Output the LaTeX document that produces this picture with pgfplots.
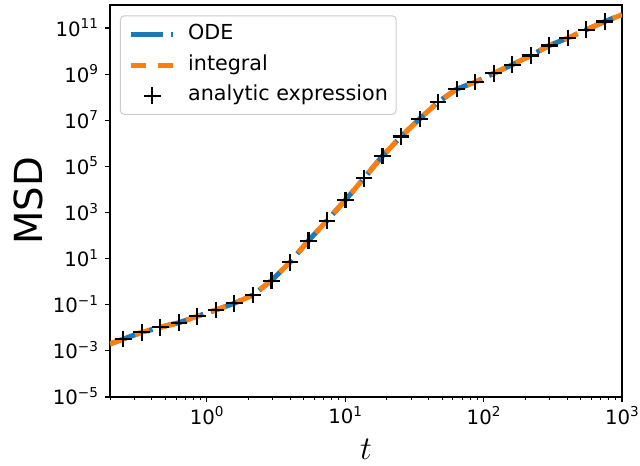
\documentclass[border=0pt]{standalone}
\usepackage{fontspec}
\setmainfont{DejaVu Sans}
\usepackage{pgfplots}
\usepackage{pgfplotstable}
\pgfplotsset{compat=1.18}
\definecolor{tabblue}{HTML}{1F77B4}
\definecolor{taborange}{HTML}{FF7F0E}
\newcommand{\tl}[1]{\fontsize{14.8}{17}\selectfont 10\raisebox{5.6pt}{\fontsize{10.2}{11}\selectfont #1}}
\pgfplotsset{
  linelegend/.style={legend image code/.code={\draw[##1] (0pt,0pt) -- (31.5pt,0pt);}},
  marklegend/.style={legend image code/.code={\draw[mark repeat=2,mark phase=2,##1] plot coordinates {(0pt,0pt) (15.75pt,0pt) (31.5pt,0pt)};}},
}
\pgfplotstableread{
t y
0.2 2.0e-3
0.2495 3.27e-3
0.3395 6.40e-3
0.4619 1.054e-2
0.6286 1.667e-2
0.8554 3.16e-2
1.164 5.93e-2
1.584 0.1159
2.156 0.2655
2.934 1.109
3.992 6.98
5.433 60.4
7.393 445.7
10.06 3532
13.69 3.09e4
18.63 2.864e5
25.35 1.972e6
34.50 1.156e7
46.95 6.14e7
63.89 2.249e8
86.94 4.53e8
118.3 1.081e9
161.0 2.553e9
219.1 6.47e9
298.2 1.758e10
405.8 3.68e10
552.2 8.43e10
751.5 1.932e11
1000 3.8e11
}\curvedata
\pgfplotstableread{
t y
0.2495 3.27e-3
0.3395 6.40e-3
0.4619 1.054e-2
0.6286 1.667e-2
0.8554 3.16e-2
1.164 5.93e-2
1.584 0.1159
2.156 0.2655
2.934 1.109
3.992 6.98
5.433 60.4
7.393 445.7
10.06 3532
13.69 3.09e4
18.63 2.864e5
25.35 1.972e6
34.50 1.156e7
46.95 6.14e7
63.89 2.249e8
86.94 4.53e8
118.3 1.081e9
161.0 2.553e9
219.1 6.47e9
298.2 1.758e10
405.8 3.68e10
552.2 8.43e10
751.5 1.932e11
}\markdata
\begin{document}
\begin{tikzpicture}
\useasboundingbox (-82.5pt,-51.75pt) rectangle (397.5pt,297.75pt);
\begin{axis}[
  scale only axis, width=384pt, height=294pt,
  xmode=log, ymode=log,
  xmin=0.2, xmax=1000, ymin=1e-5, ymax=1e12,
  axis line style={line width=0.83pt, black},
  tick pos=left, tick align=outside,
  major tick length=3.6pt, minor tick length=2.1pt,
  every tick/.style={black, line width=0.83pt},
  minor tick style={line width=0.6pt},
  xtick={1,10,100,1000},
  xticklabels={\tl{0},\tl{1},\tl{2},\tl{3}},
  minor xtick={0.2,0.3,0.4,0.5,0.6,0.7,0.8,0.9,2,3,4,5,6,7,8,9,20,30,40,50,60,70,80,90,200,300,400,500,600,700,800,900},
  ytick={1e-5,1e-3,1e-1,1e1,1e3,1e5,1e7,1e9,1e11},
  yticklabels={\tl{−5},\tl{−3},\tl{−1},\tl{1},\tl{3},\tl{5},\tl{7},\tl{9},\tl{11}},
  minor ytick={},
  tick label style={font=\fontsize{14.8}{17}\selectfont},
  xticklabel style={anchor=north, inner sep=0pt, yshift=-3.4pt},
  yticklabel style={anchor=base east, inner sep=0pt, xshift=-5.2pt, yshift=-6pt},
  xlabel={$t$},
  xlabel style={font=\fontsize{29}{34}\selectfont, at={(axis description cs:0.5,0)}, anchor=center, yshift=-39pt},
  ylabel={MSD},
  ylabel style={font=\fontsize{29}{34}\selectfont, at={(axis description cs:-0.16,0.5)}, anchor=center},
  legend cell align=left,
  legend style={at={(axis description cs:0,1)}, anchor=north west, xshift=7.5pt, yshift=-7.7pt,
    font=\fontsize{15.5}{18}\selectfont,
    draw=black!20, line width=0.75pt, rounded corners=3pt, fill=white, fill opacity=0.8, text opacity=1,
    inner xsep=6.2pt, inner ysep=6.6pt,
    nodes={text height=11.5pt, text depth=3.5pt, inner sep=0pt},
    row sep=7.9pt,
    /tikz/every odd column/.append style={column sep=9.3pt}},
]
\addplot[tabblue, line width=3.75pt, dash pattern=on 24pt off 6pt on 3.75pt off 6pt, linelegend] table[x=t,y=y] {\curvedata};
\addlegendentry{ODE}
\addplot[taborange, line width=3.75pt, dash pattern=on 11.25pt off 8.75pt, linelegend] table[x=t,y=y] {\curvedata};
\addlegendentry{integral}
\addplot[black, only marks, mark=+, mark size=6.25pt, mark options={line width=1.6pt, solid}, marklegend] table[x=t,y=y] {\markdata};
\addlegendentry{analytic expression}
\end{axis}
\end{tikzpicture}
\end{document}
